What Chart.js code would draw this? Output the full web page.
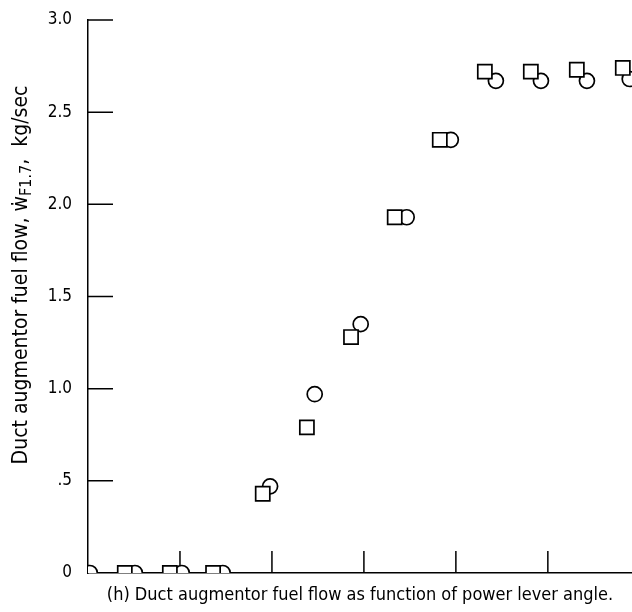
<!DOCTYPE html>
<html>
<head>
<meta charset="utf-8">
<script src="https://cdn.jsdelivr.net/npm/chart.js@4"></script>
<style>
  body { margin: 0; background: #fff; }
  #wrap { width: 632px; height: 612px; position: relative; }
</style>
</head>
<body>
<div id="wrap"><canvas id="fuelChart"></canvas></div>
<script>
// power lever angle (deg) and duct augmentor fuel flow (kg/sec)
const squareAngle = [8.0, 17.8, 27.2, 38.0, 47.6, 57.2, 66.7, 76.5, 86.3, 96.3, 106.3, 116.3];
const squareFlow  = [0, 0, 0, 0.43, 0.79, 1.28, 1.93, 2.35, 2.72, 2.72, 2.73, 2.74];
const circleAngle = [0.4, 10.2, 20.4, 29.3, 39.6, 49.3, 59.3, 69.3, 78.9, 88.7, 98.5, 108.5, 117.8];
const circleFlow  = [0, 0, 0, 0, 0.47, 0.97, 1.35, 1.93, 2.35, 2.67, 2.67, 2.67, 2.68];
const xTicks = [20, 40, 60, 80, 100];
const yTicks = [0.5, 1.0, 1.5, 2.0, 2.5, 3.0];
const yLabels = ["0", ".5", "1.0", "1.5", "2.0", "2.5", "3.0"];

const FONT = "'Liberation Sans Narrow', 'DejaVu Sans Condensed', 'Liberation Sans', sans-serif";

const toPoints = (xs, ys) => xs.map((x, i) => ({ x: x, y: ys[i] }));

// inward tick marks + rotated y title with subscript
const axisExtras = {
    id: "axisExtras",
    beforeDatasetsDraw(chart) {
        const ctx = chart.ctx;
        const xs = chart.scales.x, ys = chart.scales.y;
        const x0 = xs.getPixelForValue(0), y0 = ys.getPixelForValue(0);
        ctx.save();
        ctx.strokeStyle = "#000";
        ctx.lineWidth = 1.5;
        ctx.beginPath();
        yTicks.forEach(v => {
            const py = ys.getPixelForValue(v);
            ctx.moveTo(x0, py);
            ctx.lineTo(x0 + 25, py);
        });
        xTicks.forEach(v => {
            const px = xs.getPixelForValue(v);
            ctx.moveTo(px, y0);
            ctx.lineTo(px, y0 - 22);
        });
        ctx.stroke();
        ctx.restore();
    },
    afterDraw(chart) {
        const ctx = chart.ctx;
        const parts = [
            { t: "Duct augmentor fuel flow, \u1E87", size: 21, dy: 0 },
            { t: "F1.7", size: 16, dy: 5 },
            { t: ",  kg/sec", size: 21, dy: 0 }
        ];
        ctx.save();
        ctx.fillStyle = "#000";
        ctx.textBaseline = "middle";
        ctx.textAlign = "left";
        let total = 0;
        parts.forEach(p => {
            ctx.font = p.size + "px " + FONT;
            p.w = ctx.measureText(p.t).width;
            total += p.w;
        });
        ctx.translate(22, 275);
        ctx.rotate(-Math.PI / 2);
        let cx = -total / 2;
        parts.forEach(p => {
            ctx.font = p.size + "px " + FONT;
            ctx.fillText(p.t, cx, p.dy);
            cx += p.w;
        });
        ctx.restore();
    }
};

new Chart(document.getElementById("fuelChart"), {
    type: "scatter",
    data: {
        datasets: [
            {
                data: toPoints(squareAngle, squareFlow),
                pointStyle: "rect",
                pointRadius: 10,
                pointHoverRadius: 10,
                pointBorderWidth: 1.7,
                borderColor: "#000",
                backgroundColor: "#fff"
            },
            {
                data: toPoints(circleAngle, circleFlow),
                pointStyle: "circle",
                pointRadius: 7.5,
                pointHoverRadius: 7.5,
                pointBorderWidth: 1.7,
                borderColor: "#000",
                backgroundColor: "#fff"
            }
        ]
    },
    options: {
        responsive: true,
        maintainAspectRatio: false,
        animation: false,
        layout: { autoPadding: false, padding: { top: 20, right: 0, bottom: 0, left: 0 } },
        plugins: {
            legend: { display: false },
            tooltip: { enabled: false }
        },
        scales: {
            x: {
                type: "linear",
                min: 0,
                max: 118.3,
                grid: { display: false, drawTicks: false },
                border: { display: true, color: "#000", width: 1.5 },
                ticks: { display: false },
                title: {
                    display: true,
                    text: "(h) Duct augmentor fuel flow as function of power lever angle.",
                    color: "#000",
                    font: { family: FONT, size: 18 },
                    padding: { top: 0, bottom: 6 }
                },
                afterFit(scale) { scale.height = 39; }
            },
            y: {
                min: 0,
                max: 3,
                grid: { display: false, drawTicks: false },
                border: { display: true, color: "#000", width: 1.5 },
                ticks: {
                    stepSize: 0.5,
                    padding: 16,
                    color: "#000",
                    font: { family: FONT, size: 17 },
                    callback: (v, i) => yLabels[i]
                },
                afterFit(scale) {
                    scale.width = 88;
                    scale.paddingTop = 0;
                    scale.paddingBottom = 0;
                }
            }
        }
    },
    plugins: [axisExtras]
});
</script>
</body>
</html>
